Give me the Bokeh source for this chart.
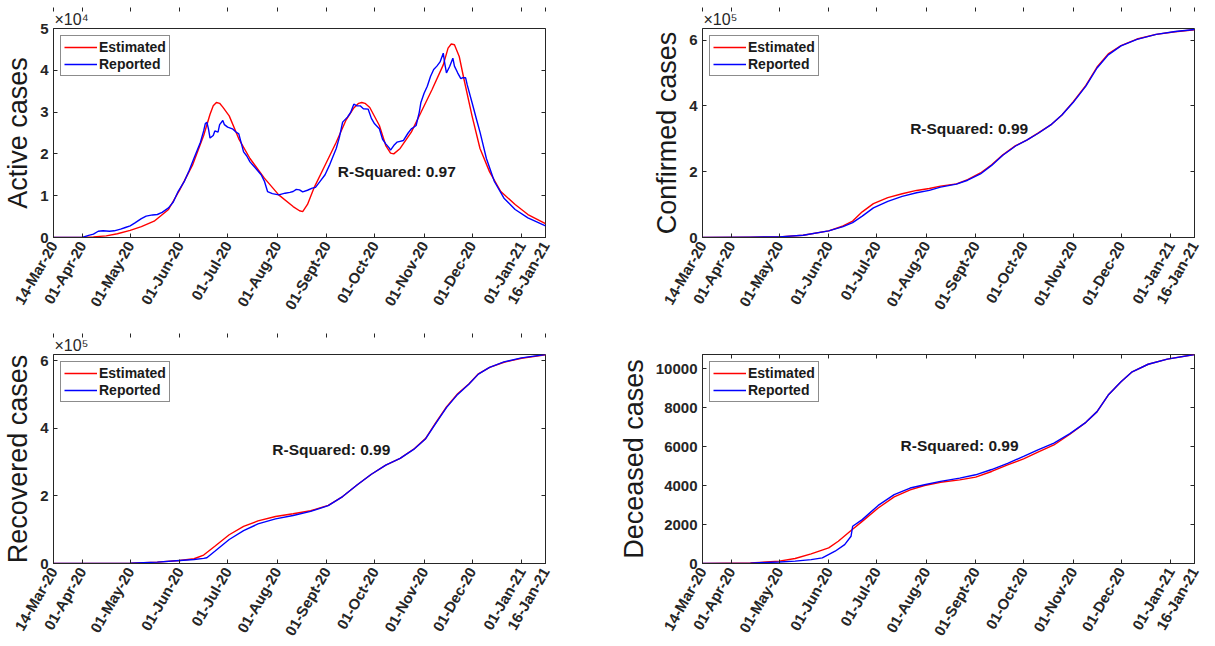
import numpy as np
import pandas as pd
from bokeh.plotting import figure
from bokeh.models import (Range1d, FixedTicker, LinearAxis, Label, Legend, LegendItem, Title,
                          CustomJSTickFormatter)
from bokeh.layouts import column, row
from bokeh.embed import file_html
from bokeh.resources import INLINE

# ---------------- data ----------------
start_date = "2020-03-14"
end_date = "2021-01-16"
tick_dates = ["2020-03-14", "2020-04-01", "2020-05-01", "2020-06-01", "2020-07-01", "2020-08-01",
              "2020-09-01", "2020-10-01", "2020-11-01", "2020-12-01", "2021-01-01", "2021-01-16"]
tick_labels = ["14-Mar-20", "01-Apr-20", "01-May-20", "01-Jun-20", "01-Jul-20", "01-Aug-20",
               "01-Sept-20", "01-Oct-20", "01-Nov-20", "01-Dec-20", "01-Jan-21", "16-Jan-21"]

# Active cases (days since 14-Mar-20)
active_est_days = [0, 18, 25, 33, 40, 48, 55, 63, 72, 79, 87, 94, 98, 100, 102, 104, 106, 110, 116, 123, 132,
                   141, 150, 154, 156, 159, 163, 170, 177, 183, 188, 191, 193, 195, 198, 204, 208, 211, 213,
                   217, 224, 230, 237, 244, 247, 249, 251, 254, 257, 262, 267, 273, 280, 289, 297, 308]
active_est = [0, 50, 150, 400, 900, 1700, 2600, 3900, 6700, 11400, 17300, 24400, 29500, 31500, 32300, 32100,
              31200, 29100, 23600, 18900, 14200, 10200, 7400, 6400, 6200, 7900, 11800, 17300, 22800, 28000,
              31000, 32100, 32300, 32100, 31100, 26800, 22000, 20200, 20000, 21300, 25200, 29900, 35400,
              41300, 45300, 46300, 46100, 43300, 37800, 29100, 21300, 15700, 11000, 7900, 5500, 3300]

active_rep_days = [0, 18, 22, 25, 28, 31, 35, 38, 42, 45, 48, 51, 55, 58, 62, 65, 68, 72, 75, 78, 82, 85, 88,
                   92, 94, 95, 96, 97, 98, 100, 101, 103, 104, 106, 107, 109, 112, 114, 116, 119, 121, 123,
                   126, 130, 132, 134, 137, 141, 145, 148, 150, 152, 154, 156, 159, 162, 164, 167, 170, 173,
                   177, 179, 181, 184, 186, 188, 190, 192, 194, 197, 199, 201, 204, 206, 208, 210, 211, 213,
                   215, 217, 219, 222, 224, 226, 227, 229, 230, 232, 234, 236, 238, 240, 242, 244, 245, 246,
                   248, 250, 251, 253, 255, 256, 258, 259, 262, 265, 267, 271, 276, 282, 289, 297, 308]
active_rep = [0, 0, 500, 800, 1500, 1600, 1500, 1600, 2000, 2400, 2800, 3500, 4500, 5100, 5400, 5500, 6000,
              7100, 8500, 11000, 13500, 16100, 19000, 22800, 25500, 27200, 27600, 26000, 23800, 24400, 25500,
              25200, 27000, 28000, 27000, 26400, 26000, 25300, 24800, 20500, 19500, 18100, 16800, 15000,
              13500, 11000, 10500, 10200, 10600, 10800, 11000, 11500, 11400, 10900, 11300, 11800, 12000,
              13500, 15000, 17500, 21300, 24000, 27600, 28800, 29900, 31900, 31500, 31500, 30800, 30700,
              28500, 27200, 26000, 23500, 22400, 21500, 20900, 22000, 22800, 23000, 23200, 25000, 26000,
              26500, 26800, 30000, 32300, 34500, 36200, 38500, 40200, 41000, 42000, 44100, 41500, 39400,
              40900, 42900, 41000, 39400, 38000, 38200, 38200, 36500, 32300, 28000, 25200, 18900, 13400,
              9400, 6700, 4700, 2800]

# Confirmed cases
conf_days = [0, 30, 48, 63, 79, 88, 94, 100, 107, 116, 125, 134, 142, 149, 159, 166, 174, 181, 188, 196,
             203, 210, 218, 225, 232, 240, 247, 254, 262, 272, 284, 296, 308]
conf_est = [0, 1000, 2000, 7000, 20000, 35000, 50000, 78000, 103000, 121000, 133000, 143000, 149000,
            156000, 163000, 176000, 196000, 221000, 251000, 279000, 296000, 317000, 342000, 372000,
            412000, 462000, 518000, 558000, 583000, 603000, 617000, 625000, 631000]
conf_rep = [0, 1000, 2000, 7000, 20000, 33000, 45000, 65000, 90000, 110000, 125000, 136000, 143000,
            153000, 162000, 174000, 193000, 219000, 250000, 278000, 296000, 316000, 342000, 372000,
            410000, 460000, 515000, 555000, 582000, 602000, 617000, 626000, 632000]

# Recovered cases
rec_est_days = [0, 48, 65, 79, 88, 94, 101, 110, 119, 128, 139, 150, 161, 172, 181, 190, 199, 208, 217,
                226, 233, 239, 246, 253, 260, 266, 273, 282, 293, 308]
rec_est = [0, 1000, 4000, 9000, 14000, 25000, 51000, 85000, 110000, 126000, 139000, 147000, 156000,
           172000, 198000, 232000, 264000, 291000, 311000, 340000, 370000, 414000, 463000, 502000,
           531000, 561000, 580000, 595000, 607000, 617000]
rec_rep_days = [0, 48, 65, 79, 88, 94, 96, 101, 110, 119, 128, 139, 150, 161, 172, 181, 190, 199, 208,
                217, 226, 233, 239, 246, 253, 260, 266, 273, 282, 293, 308]
rec_rep = [0, 1000, 4000, 9000, 12000, 15000, 17000, 36000, 71000, 97000, 117000, 132000, 142000,
           154000, 171000, 198000, 232000, 264000, 291000, 311000, 339000, 369000, 412000, 461000,
           500000, 530000, 560000, 580000, 596000, 608000, 618000]

# Deceased cases
dec_est_days = [0, 30, 48, 58, 68, 79, 85, 93, 100, 110, 120, 130, 139, 149, 161, 171, 181, 191, 201,
                210, 220, 230, 240, 247, 254, 262, 269, 279, 291, 308]
dec_est = [0, 30, 120, 255, 495, 800, 1140, 1690, 2160, 2845, 3420, 3780, 4000, 4170, 4290, 4430, 4720,
           5060, 5370, 5710, 6080, 6630, 7240, 7790, 8640, 9320, 9830, 10220, 10480, 10720]
dec_rep_days = [0, 30, 48, 58, 68, 75, 83, 89, 93, 94, 100, 110, 120, 130, 139, 149, 161, 171, 181, 191,
                201, 210, 220, 230, 240, 247, 254, 262, 269, 279, 291, 308]
dec_rep = [0, 20, 80, 120, 200, 290, 630, 970, 1400, 1910, 2250, 2980, 3530, 3870, 4040, 4210, 4380,
           4550, 4820, 5140, 5490, 5830, 6170, 6660, 7240, 7790, 8640, 9320, 9830, 10220, 10480, 10720]

# ---------------- styling ----------------
FONT = "Liberation Sans"
AX = "#262626"
T0 = pd.Timestamp(start_date)
T1 = pd.Timestamp(end_date)
xticks_ms = [float(pd.Timestamp(d).value // 10**6) for d in tick_dates]
x_overrides = {t: lab for t, lab in zip(xticks_ms, tick_labels)}


def to_dates(days):
    return (T0 + pd.to_timedelta(np.asarray(days, dtype=float), unit="D")).values


def style_axis(ax, hidden=False):
    ax.major_tick_in = 4
    ax.major_tick_out = 0
    ax.minor_tick_line_color = None
    ax.axis_line_color = AX
    ax.major_tick_line_color = AX
    ax.major_label_text_font = FONT
    ax.major_label_text_font_style = "bold"
    ax.major_label_text_font_size = "15px"
    ax.major_label_text_color = AX
    if hidden:
        ax.formatter = CustomJSTickFormatter(code="return ''")
        ax.major_label_text_font_size = "1px"
        ax.major_label_standoff = 0
        ax.axis_line_color = None


def panel(est_days, est_vals, rep_days, rep_vals, ylabel, ymax, yticks, ytick_labels, exponent,
          r2_text, r2_day, r2_val, borders):
    bl, br, bt, bb = borders
    p = figure(x_axis_type="datetime", frame_width=492, frame_height=209,
               output_backend="svg", toolbar_location=None,
               x_range=Range1d(T0, T1), y_range=Range1d(0, ymax),
               min_border_left=bl, min_border_right=br, min_border_top=bt, min_border_bottom=bb)
    p.background_fill_color = "white"
    p.border_fill_color = "white"
    p.xgrid.visible = False
    p.ygrid.visible = False
    p.outline_line_color = AX
    p.outline_line_width = 1

    r_est = p.line(to_dates(est_days), est_vals, line_color="#ff0000", line_width=1.4)
    r_rep = p.line(to_dates(rep_days), rep_vals, line_color="#0000ff", line_width=1.4)

    xa = p.xaxis[0]
    xa.ticker = FixedTicker(ticks=xticks_ms)
    xa.major_label_overrides = x_overrides
    style_axis(xa)
    xa.major_label_orientation = np.deg2rad(60)
    xa.major_label_standoff = 5

    ya = p.yaxis[0]
    ya.ticker = FixedTicker(ticks=yticks)
    ya.major_label_overrides = {float(t): lab for t, lab in zip(yticks, ytick_labels)}
    style_axis(ya)
    ya.major_label_standoff = 5
    ya.axis_label = ylabel
    ya.axis_label_text_font = FONT
    ya.axis_label_text_font_style = "normal"
    ya.axis_label_text_font_size = "27px"
    ya.axis_label_text_color = "#1a1a1a"
    ya.axis_label_standoff = 4

    if exponent:
        t = Title(text="×10" + exponent, align="left", offset=1, standoff=2,
                  text_font=FONT, text_font_size="16px", text_font_style="normal", text_color=AX)
        p.add_layout(t, "above")

    top = LinearAxis(ticker=FixedTicker(ticks=xticks_ms))
    style_axis(top, hidden=True)
    p.add_layout(top, "above")
    right = LinearAxis(ticker=FixedTicker(ticks=yticks))
    style_axis(right, hidden=True)
    p.add_layout(right, "right")

    legend = Legend(items=[LegendItem(label="Estimated", renderers=[r_est]),
                           LegendItem(label="Reported", renderers=[r_rep])],
                    location="top_left", margin=7, padding=3, spacing=1,
                    glyph_width=33, glyph_height=16, label_standoff=2,
                    label_text_font=FONT, label_text_font_style="bold", label_text_font_size="14px",
                    label_text_color="#1a1a1a", label_height=16,
                    border_line_color="#1a1a1a", border_line_width=1,
                    background_fill_color="white", background_fill_alpha=1)
    p.add_layout(legend)

    r2_ms = float((T0 + pd.Timedelta(days=r2_day)).value // 10**6)
    p.add_layout(Label(x=r2_ms, y=r2_val, text=r2_text, text_font=FONT, text_font_style="bold",
                       text_font_size="15.5px", text_color="#1a1a1a", text_baseline="middle",
                       text_align="left"))
    return p


p1 = panel(active_est_days, active_est, active_rep_days, active_rep, "Active cases", 50000,
           [0, 10000, 20000, 30000, 40000, 50000], ["0", "1", "2", "3", "4", "5"], "⁴",
           "R-Squared: 0.97", 178, 15800, (45, 63, 28, 95))
p2 = panel(conf_days, conf_est, conf_days, conf_rep, "Confirmed cases", 635000,
           [0, 200000, 400000, 600000], ["0", "2", "4", "6"], "⁵",
           "R-Squared: 0.99", 130, 330000, (94, 12, 28, 95))
p3 = panel(rec_est_days, rec_est, rec_rep_days, rec_rep, "Recovered cases", 618000,
           [0, 200000, 400000, 600000], ["0", "2", "4", "6"], "⁵",
           "R-Squared: 0.99", 137, 338000, (45, 63, 22, 76))
p4 = panel(dec_est_days, dec_est, dec_rep_days, dec_rep, "Deceased cases", 10720,
           [0, 2000, 4000, 6000, 8000, 10000], ["0", "2000", "4000", "6000", "8000", "10000"], None,
           "R-Squared: 0.99", 124, 6050, (94, 12, 22, 76))

layout = column(row(p1, p2), row(p3, p4))
open("out.html", "w").write(file_html(layout, INLINE))
